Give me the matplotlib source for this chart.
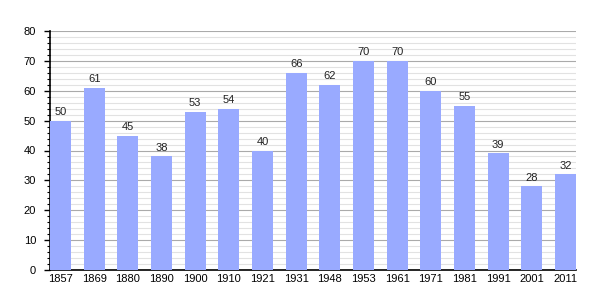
import matplotlib.pyplot as plt
from matplotlib.ticker import MultipleLocator

# population by census year
years = ['1857', '1869', '1880', '1890', '1900', '1910', '1921', '1931',
         '1948', '1953', '1961', '1971', '1981', '1991', '2001', '2011']
population = [50, 61, 45, 38, 53, 54, 40, 66, 62, 70, 70, 60, 55, 39, 28, 32]

plt.rcParams['font.family'] = ['Liberation Sans', 'DejaVu Sans']

fig = plt.figure(figsize=(6.05, 3.0), dpi=100)
ax = fig.add_axes([50 / 605, 30 / 300, 526 / 605, 239 / 300])

x = list(range(len(years)))
bar_w = 0.625
ax.bar(x, population, width=bar_w, color='#99aaff', zorder=3)

for xi, v in zip(x, population):
    ax.text(xi, v + 1.2, str(v), ha='center', va='bottom', fontsize=8, color='#222222')

ax.set_xlim(-bar_w / 2, len(years) - 1 + bar_w / 2)
ax.set_ylim(0, 80)
ax.set_xticks(x)
ax.set_xticklabels(years)
ax.yaxis.set_major_locator(MultipleLocator(10))
ax.yaxis.set_minor_locator(MultipleLocator(2))

ax.grid(which='major', axis='y', color='#aaaaaa', linewidth=0.8, zorder=0)
ax.grid(which='minor', axis='y', color='#e2e2e2', linewidth=0.8, zorder=0)

ax.tick_params(axis='x', length=0, labelsize=8, pad=3)
ax.tick_params(axis='y', which='major', length=4, width=1, labelsize=8, pad=6)
ax.tick_params(axis='y', which='minor', length=2, width=0.8)

for s in ['top', 'right']:
    ax.spines[s].set_visible(False)
ax.spines['left'].set_linewidth(1.2)
ax.spines['bottom'].set_linewidth(1.2)

fig.savefig('out.png', dpi=100)
